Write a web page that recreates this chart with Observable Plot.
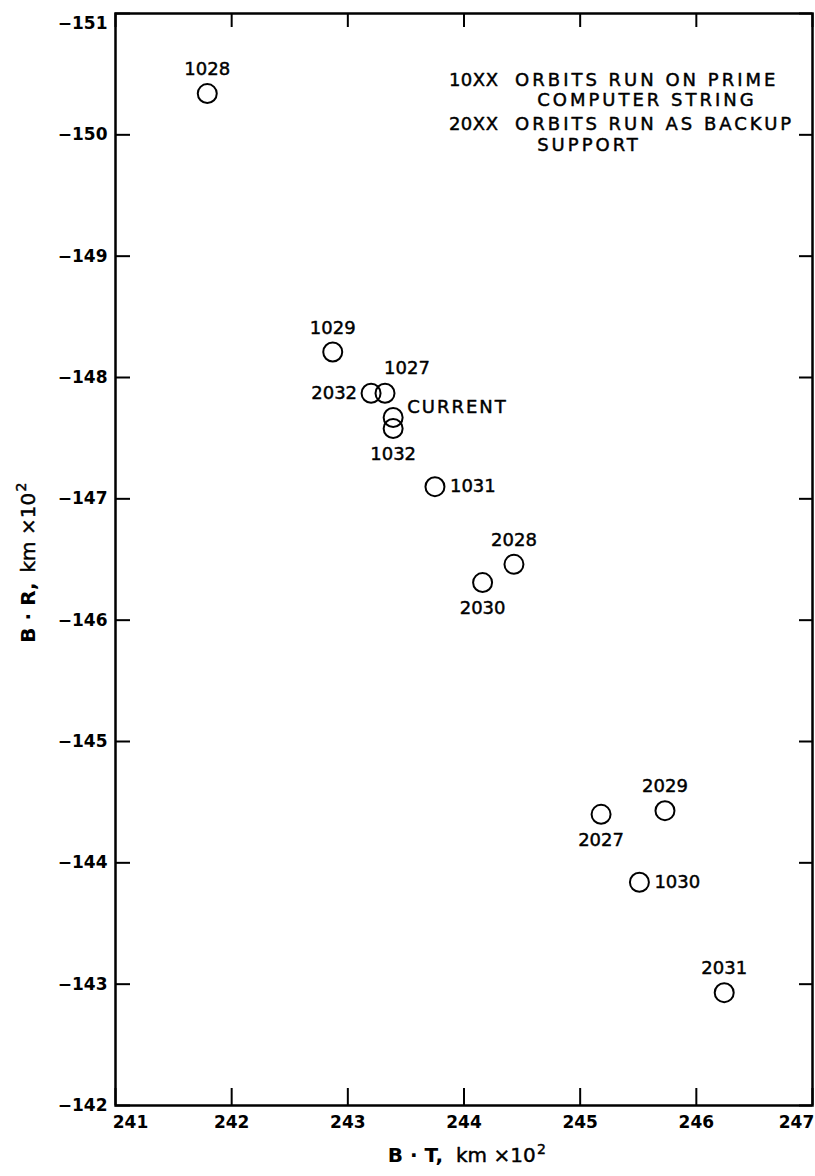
<!DOCTYPE html>
<html>
<head>
<meta charset="utf-8">
<script src="https://cdn.jsdelivr.net/npm/d3@7"></script>
<script src="https://cdn.jsdelivr.net/npm/@observablehq/plot@0.6"></script>
<style>
  html, body { margin: 0; padding: 0; background: #fff; }
  #chart svg { display: block; }
  g[aria-description="legend"] text { letter-spacing: 3px; }
  g[aria-description="legendcode"] text { letter-spacing: 0.5px; }
  g[aria-description="current"] text { letter-spacing: 2px; }
</style>
</head>
<body>
<div id="chart"></div>
<script>
// ---- data ----
const orbitLabels = ["1028", "1029", "2032", "1027", "CURRENT", "1032", "1031", "2028", "2030", "2027", "2029", "1030", "2031"];
const btValues = [241.79, 242.87, 243.20, 243.32, 243.39, 243.39, 243.75, 244.43, 244.16, 245.18, 245.73, 245.51, 246.24];
const brValues = [-150.34, -148.21, -147.87, -147.87, -147.67, -147.58, -147.10, -146.46, -146.31, -144.40, -144.43, -143.84, -142.93];

const xTicks = [241, 242, 243, 244, 245, 246, 247];
const yTicks = [-151, -150, -149, -148, -147, -146, -145, -144, -143, -142];

const legendCodes = ["10XX", "20XX"];
const legendLines = ["ORBITS RUN ON PRIME", "ORBITS RUN AS BACKUP"];
const legendContinuations = ["COMPUTER STRING", "SUPPORT"];

// label placement groups
const labelsAbove = ["1028", "1029", "2028", "2029", "2031"];
const labelsBelow = ["1032", "2030", "2027"];
const labelsLeft = ["2032"];
const labelsRight = ["1031", "1030"];
const labelsAboveRight = ["1027"];
const labelsCurrent = ["CURRENT"];

// ---- layout ----
const W = 815, H = 1176;
const mL = 115, mR = 3, mT = 13, mB = 71;
const innerW = W - mL - mR, innerH = H - mT - mB;
const ink = "#000";

const orbits = orbitLabels.map((label, i) => ({label, bt: btValues[i], br: brValues[i]}));
const pick = (names) => orbits.filter(d => names.includes(d.label));

const legendRows = legendCodes.map((code, i) => ({code, line: legendLines[i], cont: legendContinuations[i], row: i}));
const legendY0 = -150.45, legendRowStep = 0.365, legendContStep = 0.167;

const thick = {stroke: ink, strokeWidth: 0.45};
const labelFont = {fontSize: 18, fill: ink, ...thick};
const legendFont = {fontSize: 18, fill: ink, ...thick, textAnchor: "start", ariaDescription: "legend"};
const tickFont = {fontSize: 17, fontWeight: "bold", fill: ink, tickFormat: d3.format("d")};
const axisOpts = {tickSize: 0, label: null};

const chart = Plot.plot({
  width: W,
  height: H,
  marginLeft: mL,
  marginRight: mR,
  marginTop: mT,
  marginBottom: mB,
  style: {fontFamily: "DejaVu Sans", background: "#fff", color: ink},
  x: {domain: [241, 247]},
  y: {domain: [-151, -142], reverse: true},
  marks: [
    // inward tick marks on all four sides
    Plot.tickY(yTicks, {y: d => d, insetRight: innerW - 15, stroke: ink, strokeWidth: 2}),
    Plot.tickY(yTicks, {y: d => d, insetLeft: innerW - 13, stroke: ink, strokeWidth: 2}),
    Plot.tickX(xTicks, {x: d => d, insetTop: innerH - 17, stroke: ink, strokeWidth: 2}),
    Plot.tickX(xTicks, {x: d => d, insetBottom: innerH - 14, stroke: ink, strokeWidth: 2}),
    Plot.frame({stroke: ink, strokeWidth: 2.5}),

    // tick labels
    Plot.axisY(yTicks.filter(d => d !== -151), {...axisOpts, tickPadding: 8, ...tickFont}),
    Plot.axisY([-151], {...axisOpts, tickPadding: 8, dy: 10, ...tickFont}),
    Plot.axisX(xTicks.filter(d => d !== 241 && d !== 247), {...axisOpts, tickPadding: 10, ...tickFont}),
    Plot.axisX([241], {...axisOpts, tickPadding: 10, dx: 15, ...tickFont}),
    Plot.axisX([247], {...axisOpts, tickPadding: 10, dx: -16, ...tickFont}),

    // axis titles
    Plot.text(["B · T,"], {frameAnchor: "bottom", textAnchor: "end", dx: -21, dy: 56, fontSize: 20, fontWeight: "bold", fill: ink}),
    Plot.text(["km ×10"], {frameAnchor: "bottom", textAnchor: "start", dx: -8, dy: 56, fontSize: 20, fill: ink, ...thick}),
    Plot.text(["2"], {frameAnchor: "bottom", textAnchor: "start", dx: 73, dy: 48, fontSize: 14, fill: ink, ...thick}),
    Plot.text(["B · R,"], {frameAnchor: "left", rotate: -90, textAnchor: "end", dx: -87, dy: 23, fontSize: 20, fontWeight: "bold", fill: ink}),
    Plot.text(["km ×10"], {frameAnchor: "left", rotate: -90, textAnchor: "start", dx: -87, dy: 13, fontSize: 20, fill: ink, ...thick}),
    Plot.text(["2"], {frameAnchor: "left", rotate: -90, textAnchor: "start", dx: -94, dy: -68, fontSize: 14, fill: ink, ...thick}),

    // orbit solutions
    Plot.dot(orbits, {x: "bt", y: "br", r: 9.5, stroke: ink, strokeWidth: 2, fill: "none"}),

    // point labels
    Plot.text(pick(labelsAbove), {x: "bt", y: "br", text: "label", dy: -24, ...labelFont}),
    Plot.text(pick(labelsBelow), {x: "bt", y: "br", text: "label", dy: 26, ...labelFont}),
    Plot.text(pick(labelsLeft), {x: "bt", y: "br", text: "label", dx: -14, textAnchor: "end", ...labelFont}),
    Plot.text(pick(labelsRight), {x: "bt", y: "br", text: "label", dx: 15, textAnchor: "start", ...labelFont}),
    Plot.text(pick(labelsAboveRight), {x: "bt", y: "br", text: "label", dx: 22, dy: -25, ...labelFont}),
    Plot.text(pick(labelsCurrent), {x: "bt", y: "br", text: "label", dx: 14, dy: -10, textAnchor: "start", ariaDescription: "current", ...labelFont}),

    // legend annotation
    Plot.text(legendRows, {x: () => 243.87, y: d => legendY0 + d.row * legendRowStep, text: "code", ...legendFont, ariaDescription: "legendcode"}),
    Plot.text(legendRows, {x: () => 244.44, y: d => legendY0 + d.row * legendRowStep, text: "line", ...legendFont}),
    Plot.text(legendRows, {x: () => 244.63, y: d => legendY0 + d.row * legendRowStep + legendContStep, text: "cont", ...legendFont})
  ]
});

document.getElementById("chart").appendChild(chart);
</script>
</body>
</html>
